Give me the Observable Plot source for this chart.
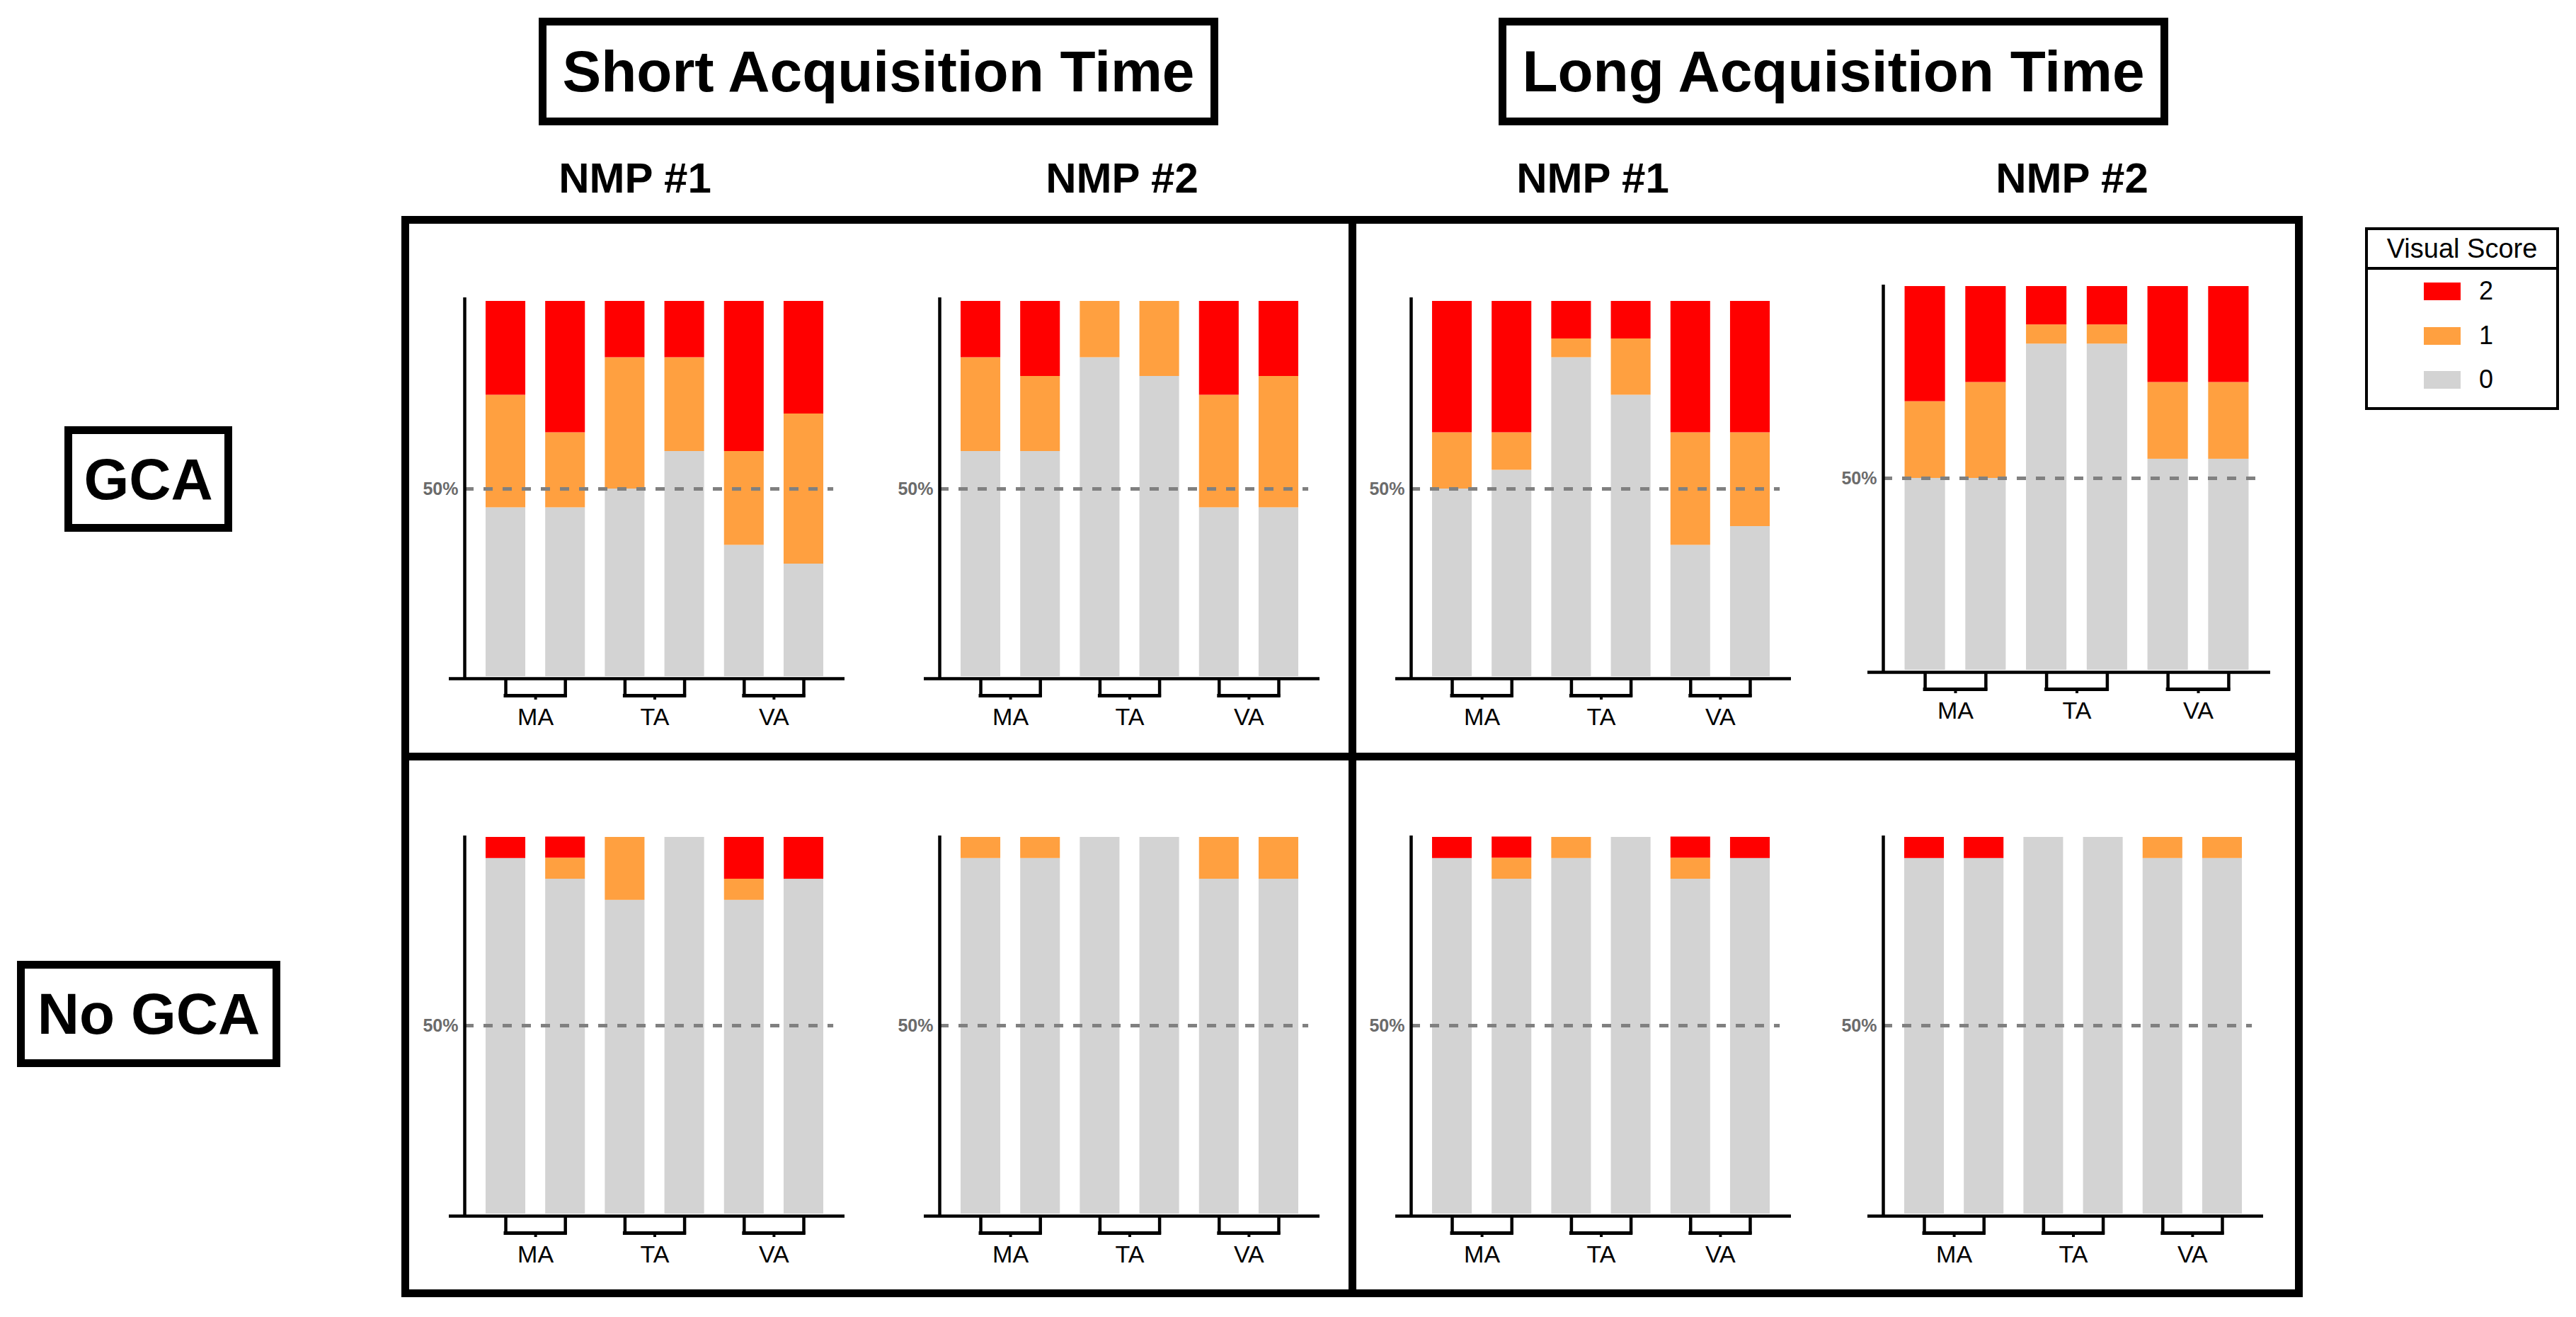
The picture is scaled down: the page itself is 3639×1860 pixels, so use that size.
<!DOCTYPE html>
<html>
<head>
<meta charset="utf-8">
<script src="https://cdn.jsdelivr.net/npm/d3@7"></script>
<script src="https://cdn.jsdelivr.net/npm/@observablehq/plot@0.6"></script>
<style>
  body { margin: 0; background: #fff; }
  #page { position: relative; width: 3639px; height: 1860px; overflow: hidden; background: #fff;
          font-family: "Liberation Sans", Arial, sans-serif; color: #000; }
  .box { position: absolute; box-sizing: border-box; border: 11px solid #000; display: flex;
         align-items: center; justify-content: center; font-weight: bold; white-space: nowrap; }
  .bar { position: absolute; background: #000; }
  .lbl { position: absolute; font-weight: bold; font-size: 60px; line-height: 60px;
         transform: translateX(-50%); white-space: nowrap; }
  .panel { position: absolute; }
  .abs { position: absolute; white-space: nowrap; }
</style>
</head>
<body>
<div id="page"></div>
<script>
// ---------------- data ----------------
const barCategories = ["MA", "MA", "TA", "TA", "VA", "VA"];
const groupLabels = ["MA", "TA", "VA"];
const scoreLevels = ["0", "1", "2"];
const scoreColors = ["#D3D3D3", "#FFA040", "#FF0000"];
const legendTitle = "Visual Score";
const legendOrder = ["2", "1", "0"];
const timeLabels = ["Short Acquisition Time", "Long Acquisition Time"];
const readerLabels = ["NMP #1", "NMP #2", "NMP #1", "NMP #2"];
const rowLabels = ["GCA", "No GCA"];
const refValue = 50;
const refLabel = "50%";

// percent of cases per visual score (0, 1, 2) for each of the six bars
// GCA row
const shortNmp1Gca0 = [45, 45, 50, 60, 35, 30];
const shortNmp1Gca1 = [30, 20, 35, 25, 25, 40];
const shortNmp1Gca2 = [25, 35, 15, 15, 40, 30];

const shortNmp2Gca0 = [60, 60, 85, 80, 45, 45];
const shortNmp2Gca1 = [25, 20, 15, 20, 30, 35];
const shortNmp2Gca2 = [15, 20, 0, 0, 25, 20];

const longNmp1Gca0 = [50, 55, 85, 75, 35, 40];
const longNmp1Gca1 = [15, 10, 5, 15, 30, 25];
const longNmp1Gca2 = [35, 35, 10, 10, 35, 35];

const longNmp2Gca0 = [50, 50, 85, 85, 55, 55];
const longNmp2Gca1 = [20, 25, 5, 5, 20, 20];
const longNmp2Gca2 = [30, 25, 10, 10, 25, 25];

// No GCA row
const shortNmp1NoGca0 = [94.4, 88.9, 83.3, 100, 83.3, 88.9];
const shortNmp1NoGca1 = [0, 5.6, 16.7, 0, 5.6, 0];
const shortNmp1NoGca2 = [5.6, 5.6, 0, 0, 11.1, 11.1];

const shortNmp2NoGca0 = [94.4, 94.4, 100, 100, 88.9, 88.9];
const shortNmp2NoGca1 = [5.6, 5.6, 0, 0, 11.1, 11.1];
const shortNmp2NoGca2 = [0, 0, 0, 0, 0, 0];

const longNmp1NoGca0 = [94.4, 88.9, 94.4, 100, 88.9, 94.4];
const longNmp1NoGca1 = [0, 5.6, 5.6, 0, 5.6, 0];
const longNmp1NoGca2 = [5.6, 5.6, 0, 0, 5.6, 5.6];

const longNmp2NoGca0 = [94.4, 94.4, 100, 100, 94.4, 94.4];
const longNmp2NoGca1 = [0, 0, 0, 0, 5.6, 5.6];
const longNmp2NoGca2 = [5.6, 5.6, 0, 0, 0, 0];

// ---------------- layout ----------------
const page = document.getElementById("page");
const FONT = '"Liberation Sans", Arial, sans-serif';

const panels = [
  {values: [shortNmp1Gca0, shortNmp1Gca1, shortNmp1Gca2], axisX: 656, top: 425, bottom: 955, span: 537, axisExtra: 5},
  {values: [shortNmp2Gca0, shortNmp2Gca1, shortNmp2Gca2], axisX: 1327, top: 425, bottom: 955, span: 537, axisExtra: 5},
  {values: [longNmp1Gca0, longNmp1Gca1, longNmp1Gca2], axisX: 1993, top: 425, bottom: 955, span: 537, axisExtra: 5},
  {values: [longNmp2Gca0, longNmp2Gca1, longNmp2Gca2], axisX: 2660, top: 404, bottom: 946, span: 547, axisExtra: 2},
  {values: [shortNmp1NoGca0, shortNmp1NoGca1, shortNmp1NoGca2], axisX: 656, top: 1182, bottom: 1714, span: 537, axisExtra: 2},
  {values: [shortNmp2NoGca0, shortNmp2NoGca1, shortNmp2NoGca2], axisX: 1327, top: 1182, bottom: 1714, span: 537, axisExtra: 2},
  {values: [longNmp1NoGca0, longNmp1NoGca1, longNmp1NoGca2], axisX: 1993, top: 1182, bottom: 1714, span: 537, axisExtra: 2},
  {values: [longNmp2NoGca0, longNmp2NoGca1, longNmp2NoGca2], axisX: 2660, top: 1182, bottom: 1714, span: 537, axisExtra: 2}
];

const xDomain = [-0.689, 5.689];
const barHalf = 0.333;

function drawPanel(p) {
  const mL = 100, mR = 40, mT = 30, mB = 95;
  const plotH = p.bottom - p.top;
  const W = p.span + mL + mR, H = plotH + mT + mB;
  const step = p.span / (xDomain[1] - xDomain[0]);
  const kx = 1 / step, ky = 100 / plotH;

  const rows = [];
  barCategories.forEach((cat, i) => {
    let acc = 0;
    scoreLevels.forEach((s, k) => {
      const v = p.values[k][i];
      if (v > 0) rows.push({i, cat, score: s, y1: acc, y2: acc + v});
      acc += v;
    });
  });
  const pairs = groupLabels.map(g => {
    const idx = barCategories.map((c, i) => c === g ? i : -1).filter(i => i >= 0);
    return {label: g, a: idx[0], b: idx[idx.length - 1], mid: (idx[0] + idx[idx.length - 1]) / 2};
  });
  const sides = pairs.flatMap(d => [d.a, d.b]);

  const chart = Plot.plot({
    width: W, height: H,
    marginLeft: mL, marginRight: mR, marginTop: mT, marginBottom: mB,
    x: {type: "linear", domain: xDomain, axis: null},
    y: {type: "linear", domain: [0, 100], axis: null},
    color: {type: "ordinal", domain: scoreLevels, range: scoreColors},
    style: {background: "transparent", overflow: "visible", fontFamily: FONT},
    marks: [
      Plot.rect(rows, {x1: d => d.i - barHalf, x2: d => d.i + barHalf, y1: "y1", y2: "y2", fill: "score"}),
      Plot.ruleY([refValue], {x1: xDomain[0], x2: 5.5, stroke: "#808080", strokeWidth: 5, strokeDasharray: "13,14"}),
      Plot.text([refLabel], {x: xDomain[0], y: refValue, text: d => d, dx: -9, textAnchor: "end", lineAnchor: "middle",
                             fontSize: 25, fontWeight: "bold", fill: "#6b6b6b"}),
      Plot.ruleX([xDomain[0]], {y1: -3 * ky, y2: 100 + p.axisExtra * ky, stroke: "#000", strokeWidth: 4.5}),
      Plot.ruleY([0], {x1: xDomain[0] - 22 * kx, x2: xDomain[1], dy: 3, stroke: "#000", strokeWidth: 4.5}),
      Plot.ruleX(sides, {x: d => d, y1: -3 * ky, y2: -29.5 * ky, stroke: "#000", strokeWidth: 4.5}),
      Plot.ruleY(pairs, {x1: "a", x2: "b", y: d => -27 * ky, stroke: "#000", strokeWidth: 5, strokeLinecap: "square"}),
      Plot.ruleX(pairs, {x: "mid", y1: -28 * ky, y2: -33 * ky, stroke: "#000", strokeWidth: 4}),
      Plot.text(pairs, {x: "mid", y: 0, text: "label", dy: 68, lineAnchor: "bottom", fontSize: 34, fill: "#000"})
    ]
  });
  const holder = document.createElement("div");
  holder.className = "panel";
  holder.style.left = (p.axisX - mL) + "px";
  holder.style.top = (p.top - mT) + "px";
  holder.style.width = W + "px";
  holder.style.height = H + "px";
  holder.appendChild(chart);
  page.appendChild(holder);
}
panels.forEach(drawPanel);

// ---------------- frame ----------------
function addDiv(cls, css, text) {
  const d = document.createElement("div");
  d.className = cls;
  Object.assign(d.style, css);
  if (text != null) d.textContent = text;
  page.appendChild(d);
  return d;
}
addDiv("box", {left: "567px", top: "305px", width: "2686px", height: "1527px"});
addDiv("bar", {left: "1905px", top: "305px", width: "11px", height: "1527px"});
addDiv("bar", {left: "567px", top: "1063px", width: "2686px", height: "11px"});

// headers
addDiv("box", {left: "761px", top: "25px", width: "960px", height: "152px", fontSize: "82px"}, timeLabels[0]);
addDiv("box", {left: "2117px", top: "25px", width: "946px", height: "152px", fontSize: "82px"}, timeLabels[1]);
const readerX = [897, 1585, 2250, 2927];
readerLabels.forEach((t, i) => addDiv("lbl", {left: readerX[i] + "px", top: "222px"}, t));

// row labels
addDiv("box", {left: "91px", top: "602px", width: "237px", height: "149px", fontSize: "82px"}, rowLabels[0]);
addDiv("box", {left: "24px", top: "1357px", width: "372px", height: "150px", fontSize: "82px"}, rowLabels[1]);

// legend
addDiv("box", {left: "3341px", top: "321px", width: "274px", height: "258px", borderWidth: "4px"});
addDiv("bar", {left: "3341px", top: "377px", width: "274px", height: "4px"});
addDiv("abs", {left: "3341px", top: "329px", width: "274px", textAlign: "center", fontSize: "38px", lineHeight: "44px"}, legendTitle);
const swatchTops = [399, 462, 524];
legendOrder.forEach((s, k) => {
  const color = scoreColors[scoreLevels.indexOf(s)];
  addDiv("abs", {left: "3424px", top: swatchTops[k] + "px", width: "52px", height: "25px", background: color});
  addDiv("abs", {left: "3502px", top: (swatchTops[k] - 8) + "px", fontSize: "36px", lineHeight: "40px"}, s);
});
</script>
</body>
</html>
